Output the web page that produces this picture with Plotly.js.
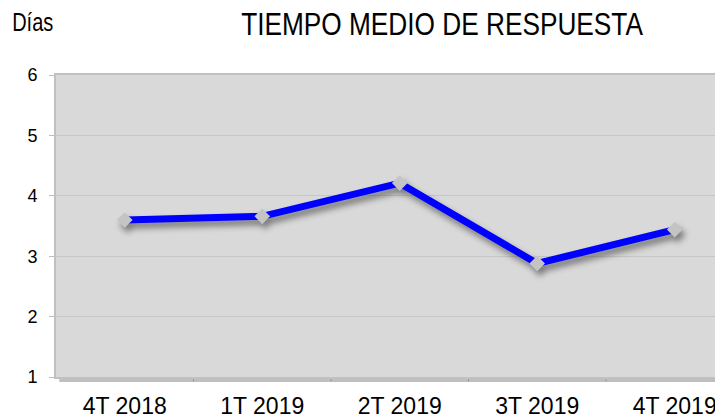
<!DOCTYPE html>
<html><head><meta charset="utf-8">
<script src="https://cdn.plot.ly/plotly-3.0.1.min.js"></script>
<style>html,body{margin:0;padding:0;background:#fff}#chart{width:715px;height:419px}
.scatterlayer .trace{filter:drop-shadow(3px 5px 3px rgba(0,0,0,0.45));}
</style>
</head><body><div id="chart"></div>
<script>
const categories = ["4T 2018", "1T 2019", "2T 2019", "3T 2019", "4T 2019"];
const dias = [3.60, 3.66, 4.21, 2.88, 3.44];
const yTicks = [1, 2, 3, 4, 5, 6];

const trace = {
  x: [0,1,2,3,4], y: dias, type: 'scatter', mode: 'lines+markers',
  line: {color: '#0000ff', width: 7},
  marker: {symbol: 'diamond', size: 12, color: '#c4c4c4', line: {width: 0}},
  hoverinfo: 'skip'
};
const layout = {
  width: 715, height: 419,
  margin: {l: 56, r: 0, t: 75, b: 42},
  paper_bgcolor: '#ffffff', plot_bgcolor: '#d9d9d9',
  showlegend: false,
  title: {text: 'TIEMPO MEDIO DE RESPUESTA', x: 442/715, xanchor: 'center', y: 1 - 24/419, yanchor: 'middle',
          font: {family: 'Liberation Sans, Arial', size: 32, color: '#000'}},
  xaxis: {
    range: [-0.5, 4.293], tickmode: 'array', tickvals: [0,1,2,3,4], ticktext: categories,
    showgrid: false, zeroline: false, showline: true, linecolor: '#c0c0c0', linewidth: 2, mirror: true,
    ticks: '', ticklabelstandoff: 7, ticklabeloverflow: 'allow',
    tickfont: {family: 'Liberation Sans, Arial', size: 23, color: '#000'}, fixedrange: true
  },
  yaxis: {
    range: [1, 6], tickmode: 'array', tickvals: yTicks,
    showgrid: true, gridcolor: '#c6c6c6', gridwidth: 1, zeroline: false,
    showline: true, linecolor: '#c0c0c0', linewidth: 2, mirror: true,
    ticks: 'outside', ticklen: 5, tickcolor: '#bfbfbf', tickwidth: 1, ticklabelstandoff: 8,
    tickfont: {family: 'Liberation Sans, Arial', size: 18, color: '#000'}, fixedrange: true
  },
  annotations: [{text: 'Días', xref: 'paper', yref: 'paper', x: 0, y: 1, xanchor: 'center', yanchor: 'middle', showarrow: false,
    font: {family: 'Liberation Sans, Arial', size: 25, color: '#000'}}],
  shapes: []
};
// place Días annotation in pixel terms: paper coords relative to plot area
const plotW = 715 - 56, plotH = 419 - 75 - 42;
layout.annotations[0].x = (32 - 56) / plotW;
layout.annotations[0].y = (419 - 42 - 22) / plotH;
// category boundary ticks on the x axis
[0.5,1.5,2.5,3.5].forEach(b => layout.shapes.push({type:'line', xref:'x', yref:'paper', x0:b, x1:b, y0:0, y1:-0.015, line:{color:'#c8c8c8', width:1}}));
layout.shapes.push({type:'line', xref:'paper', yref:'paper', x0:0.005, x1:1, y0:-0.012, y1:-0.012, line:{color:'rgba(0,0,0,0.25)', width:3}});

function squeeze(el, s) {
  if (!el) return;
  const bb = el.getBBox();
  const cx = bb.x + bb.width / 2;
  const prev = el.getAttribute('transform') || '';
  el.setAttribute('transform', `translate(${cx},0) scale(${s},1) translate(${-cx},0) ${prev}`);
}
Plotly.newPlot('chart', [trace], layout, {displayModeBar: false, staticPlot: true}).then(gd => {
  squeeze(gd.querySelector('.gtitle'), 0.82);
  squeeze(gd.querySelector('.annotation-text'), 0.8);
});
</script></body></html>
